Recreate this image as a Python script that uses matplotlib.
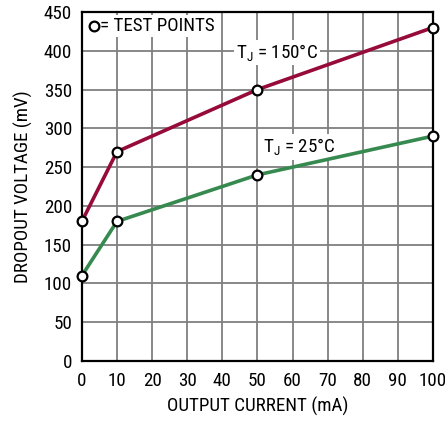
import matplotlib
matplotlib.use('Agg')
import matplotlib.pyplot as plt
from matplotlib import font_manager

# test points
current_ma = [0, 10, 50, 100]
vdrop_150c = [180, 270, 350, 430]
vdrop_25c = [110, 180, 240, 290]

x_ticks = list(range(0, 101, 10))
y_ticks = list(range(0, 451, 50))

names = {f.name for f in font_manager.fontManager.ttflist}
fam = 'Liberation Sans'
for cand in ['Liberation Sans Narrow', 'Roboto Condensed', 'Open Sans Condensed']:
    if cand in names:
        fam = cand
        break
plt.rcParams['font.family'] = [fam, 'DejaVu Sans']
plt.rcParams['mathtext.fontset'] = 'custom'
plt.rcParams['mathtext.rm'] = fam
plt.rcParams['mathtext.it'] = fam

red = '#960b3a'
green = '#378a4f'
fs = 13.7

fig = plt.figure(figsize=(4.45, 4.21), dpi=100)
ax = fig.add_axes([0.184, 0.1425, 0.789, 0.829])

mk = dict(marker='o', markersize=7, markerfacecolor='white', markeredgecolor='black',
          markeredgewidth=1.6, linewidth=2.6, zorder=3, clip_on=False)
ax.plot(current_ma, vdrop_150c, color=red, **mk)
ax.plot(current_ma, vdrop_25c, color=green, **mk)

ax.set_xlim(0, 100)
ax.set_ylim(0, 450)
ax.set_xticks(x_ticks)
ax.set_yticks(y_ticks)
ax.grid(True, color='#7f7f7f', linewidth=1.3)
ax.set_axisbelow(True)
ax.tick_params(axis='x', length=0, labelsize=fs, pad=8)
ax.tick_params(axis='y', length=0, labelsize=fs, pad=7)
for s in ax.spines.values():
    s.set_linewidth(1.6)
    s.set_color('black')

ax.set_xlabel('OUTPUT CURRENT (mA)', fontsize=fs, labelpad=5)
ax.set_ylabel('DROPOUT VOLTAGE (mV)', fontsize=fs, labelpad=8)

box = dict(facecolor='white', edgecolor='none', pad=1.5)
ax.text(55.5, 398, r'T$_\mathregular{J}$ = 150°C', fontsize=fs, ha='center', va='center', bbox=box, zorder=2)
ax.text(62, 276, r'T$_\mathregular{J}$ = 25°C', fontsize=fs, ha='center', va='center', bbox=box, zorder=2)
ax.text(5.3, 432, '= TEST POINTS', fontsize=fs, ha='left', va='center', bbox=box, zorder=2)
ax.plot([3.4], [432], marker='o', markersize=7, markerfacecolor='white', markeredgecolor='black',
        markeredgewidth=1.6, linestyle='none', zorder=4)

fig.savefig('out.png', dpi=100)
